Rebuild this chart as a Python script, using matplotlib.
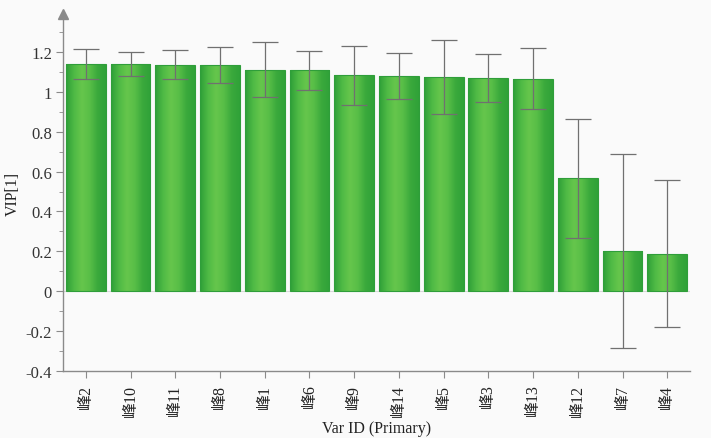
import numpy as np
import matplotlib
matplotlib.use("Agg")
import matplotlib.pyplot as plt
from matplotlib.colors import LinearSegmentedColormap

plt.rcParams['font.family'] = ['Liberation Serif', 'Noto Sans CJK SC']

# VIP values with jack-knifed confidence intervals
labels = ["峰2", "峰10", "峰11", "峰8", "峰1", "峰6", "峰9",
          "峰14", "峰5", "峰3", "峰13", "峰12", "峰7", "峰4"]
vip = [1.141, 1.141, 1.136, 1.136, 1.111, 1.107, 1.082,
       1.080, 1.075, 1.069, 1.065, 0.566, 0.201, 0.189]
err = [0.076, 0.060, 0.074, 0.090, 0.138, 0.096, 0.150,
       0.115, 0.185, 0.120, 0.153, 0.298, 0.488, 0.368]
yticks = [-0.4, -0.2, 0, 0.2, 0.4, 0.6, 0.8, 1, 1.2]
ytick_labels = ["-0.4", "-0.2", "0", "0.2", "0.4", "0.6", "0.8", "1", "1.2"]

fig = plt.figure(figsize=(7.11, 4.39), dpi=100, facecolor="#fafafa")
ax = fig.add_axes([0.0886, 0.1526, 0.882, 0.8132])
ax.set_facecolor("none")

x = np.arange(len(labels))
bars = ax.bar(x, vip, width=0.89, color="none", edgecolor="#2f9e3a",
              linewidth=0.8, zorder=2)

# horizontal green gradient inside each bar
green = LinearSegmentedColormap.from_list(
    "bar", ["#2e9f38", "#4fba45", "#66c64c", "#58be47", "#3aa93c", "#30a238"])
grad = np.linspace(0, 1, 64).reshape(1, -1)
for b in bars:
    x0, y0 = b.get_x(), b.get_y()
    w, h = b.get_width(), b.get_height()
    im = ax.imshow(grad, cmap=green, aspect="auto", zorder=1,
                   extent=[x0, x0 + w, y0, y0 + h], interpolation="bicubic")
    im.set_clip_path(b)

ax.errorbar(x, vip, yerr=err, fmt="none", ecolor="#707070", elinewidth=0.9,
            capsize=9.5, capthick=0.9, zorder=3)

ax.axhline(0, color="#d8d8d8", linewidth=0.8, zorder=0)

ax.set_xlim(-0.51, len(labels) - 0.49)
ax.set_ylim(-0.4, 1.39)
ax.set_aspect("auto")

ax.spines["top"].set_visible(False)
ax.spines["right"].set_visible(False)
for s in ("left", "bottom"):
    ax.spines[s].set_color("#8a8a8a")
    ax.spines[s].set_linewidth(1.0)

# arrow on top of the y axis
ax.plot(0, 1, marker="^", markersize=7, color="#8a8a8a",
        transform=ax.transAxes, clip_on=False)

ax.set_yticks(yticks)
ax.set_yticklabels(ytick_labels)
ax.set_yticks(np.arange(-0.3, 1.35, 0.2), minor=True)
ax.set_xticks(x)
ax.set_xticklabels(labels, rotation=90)

ax.tick_params(axis="y", which="major", length=5, color="#8a8a8a",
               labelsize=12, labelcolor="#333333", pad=3)
ax.tick_params(axis="y", which="minor", length=3, color="#8a8a8a")
ax.tick_params(axis="x", length=5, color="#8a8a8a", labelsize=11.5,
               labelcolor="#222222", pad=4)

ax.set_ylabel("VIP[1]", fontsize=11.5, color="#222222", labelpad=3)
ax.set_xlabel("Var ID (Primary)", fontsize=11.5, color="#222222", labelpad=3)

fig.savefig("out.png", dpi=100, facecolor=fig.get_facecolor())
